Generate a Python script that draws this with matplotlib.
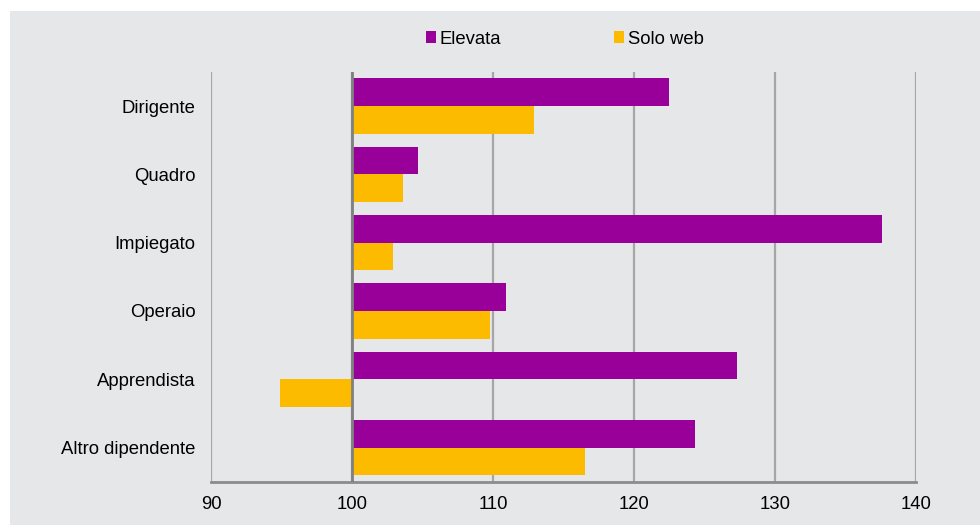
import matplotlib
matplotlib.use("Agg")
import matplotlib.pyplot as plt
from matplotlib.patches import Rectangle
import numpy as np

categories = ["Dirigente", "Quadro", "Impiegato", "Operaio", "Apprendista", "Altro dipendente"]
elevata = [122.5, 104.7, 137.6, 110.9, 127.3, 124.3]
solo_web = [112.9, 103.6, 102.9, 109.8, 94.9, 116.5]
x_ticks = [90, 100, 110, 120, 130, 140]
baseline = 100

purple = "#990099"
yellow = "#FDBB00"
panel = "#E6E7E8"
fs = 13.3

plt.rcParams["font.family"] = ["Liberation Sans", "DejaVu Sans"]

fig = plt.figure(figsize=(9.8, 5.25), dpi=100, facecolor="white")
fig.patches.append(Rectangle((10 / 980, 0), 1, 1 - 11 / 525, transform=fig.transFigure,
                             facecolor=panel, edgecolor="none", zorder=-10))

ax = fig.add_axes([211.3 / 980, 43.3 / 525, 704.4 / 980, 409.7 / 525])
ax.set_facecolor(panel)

y = np.arange(len(categories))
h = 0.405
ax.barh(y - h / 2, np.array(elevata) - baseline, left=baseline, height=h,
        color=purple, label="Elevata", zorder=3)
ax.barh(y + h / 2, np.array(solo_web) - baseline, left=baseline, height=h,
        color=yellow, label="Solo web", zorder=3)

ax.set_xlim(x_ticks[0], x_ticks[-1])
ax.set_ylim(len(categories) - 0.5, -0.5)
ax.set_xticks(x_ticks)
ax.set_xticklabels([str(t) for t in x_ticks])
ax.set_yticks(y)
ax.set_yticklabels(categories)
ax.tick_params(axis="both", length=0, labelsize=fs, colors="black")
ax.tick_params(axis="y", pad=11.5)
ax.tick_params(axis="x", pad=10.5)

for t in x_ticks:
    ax.axvline(t, color="#A6A6A6", lw=1.6, zorder=1)
ax.axvline(baseline, color="#808080", lw=2, zorder=4)

for s in ["top", "right", "left"]:
    ax.spines[s].set_visible(False)
ax.spines["bottom"].set_color("#8C8C8C")
ax.spines["bottom"].set_linewidth(2)

leg = fig.legend(loc="center", bbox_to_anchor=(564.5 / 980, 1 - 39 / 525), ncol=2,
                 frameon=False, fontsize=fs, handlelength=0.55, handleheight=0.55,
                 handletextpad=0.2, columnspacing=6.1)

fig.savefig("out.png", dpi=100, facecolor=fig.get_facecolor())
